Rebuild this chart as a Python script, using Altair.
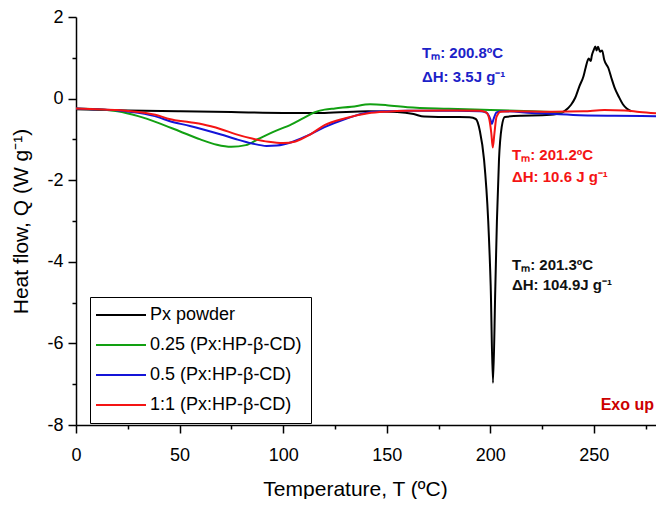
import altair as alt
import pandas as pd

# ---------------- data ----------------
series_names = ["Px powder", "0.25 (Px:HP-β-CD)", "0.5 (Px:HP-β-CD)", "1:1 (Px:HP-β-CD)"]
series_colors = ["#000000", "#12a012", "#1414d8", "#f41414"]

px_T = [0, 25, 50, 75, 100, 120, 141, 155, 163, 168, 175, 185, 190, 193, 195, 197, 199,
        200.2, 201.3, 202.4, 203.2, 204.2, 205.5, 207, 215, 225, 232, 236, 239, 241, 243,
        245, 246, 247.5, 248.5, 249, 250, 250.7, 251.3, 252, 253, 254, 255, 257, 258.5,
        260, 262, 264, 266, 268]
px_Q = [-0.26, -0.29, -0.31, -0.33, -0.35, -0.35, -0.31, -0.33, -0.38, -0.44, -0.45, -0.45,
        -0.46, -0.5, -0.8, -1.5, -3.0, -4.6, -6.97, -4.7, -3.0, -1.5, -0.7, -0.45, -0.42,
        -0.41, -0.38, -0.3, -0.15, 0.02, 0.3, 0.55, 0.75, 0.98, 0.92, 1.05, 1.2, 1.28, 1.18,
        1.27, 1.15, 1.18, 0.95, 0.75, 0.5, 0.27, 0.05, -0.14, -0.25, -0.31]

g_T = [0, 10, 20, 30, 40, 50, 60, 68, 75, 82, 88, 95, 104, 110, 115, 120, 125, 133, 142,
       150, 160, 180, 200, 220, 235]
g_Q = [-0.24, -0.26, -0.31, -0.43, -0.6, -0.8, -1.0, -1.13, -1.18, -1.14, -0.99, -0.82,
       -0.63, -0.47, -0.34, -0.27, -0.24, -0.2, -0.14, -0.16, -0.21, -0.25, -0.28, -0.31, -0.34]

b_T = [0, 10, 20, 30, 40, 45, 55, 61, 70, 77, 85, 92, 97, 104, 112, 120, 130, 141, 150,
       160, 184, 195, 198, 200, 200.8, 201.6, 203, 206, 220, 240, 260, 280]
b_Q = [-0.24, -0.26, -0.29, -0.35, -0.46, -0.55, -0.67, -0.75, -0.88, -0.99, -1.1, -1.16,
       -1.15, -1.07, -0.9, -0.7, -0.5, -0.34, -0.31, -0.3, -0.3, -0.31, -0.34, -0.5, -0.62,
       -0.5, -0.34, -0.31, -0.35, -0.4, -0.42, -0.43]

r_T = [0, 10, 20, 30, 40, 45, 55, 61, 70, 77, 85, 93, 100, 106, 113, 120, 130, 141, 150,
       160, 184, 195, 198, 199.5, 200.5, 201.2, 202, 203, 205, 210, 230, 245, 255, 265, 272, 280]
r_Q = [-0.24, -0.26, -0.28, -0.33, -0.42, -0.5, -0.58, -0.63, -0.75, -0.87, -0.98, -1.06,
       -1.09, -1.05, -0.88, -0.65, -0.48, -0.36, -0.32, -0.3, -0.29, -0.3, -0.34, -0.5,
       -0.85, -1.2, -0.85, -0.45, -0.32, -0.31, -0.32, -0.31, -0.28, -0.29, -0.33, -0.36]

x_ticks = [0, 25, 50, 75, 100, 125, 150, 175, 200, 225, 250, 275]
y_ticks = [-8, -7, -6, -5, -4, -3, -2, -1, 0, 1, 2]

ann_blue = ["Tₘ: 200.8ºC", "ΔH: 3.5J g⁻¹"]
ann_red = ["Tₘ: 201.2ºC", "ΔH: 10.6 J g⁻¹"]
ann_black = ["Tₘ: 201.3ºC", "ΔH: 104.9J g⁻¹"]
exo_label = "Exo up"

# ---------------- table ----------------
rows = []
for k, (name, T, Q) in enumerate(zip(series_names, [px_T, g_T, b_T, r_T], [px_Q, g_Q, b_Q, r_Q])):
    for t, q in zip(T, Q):
        rows.append({"series": name, "T": t, "Q": q, "k": k})
df = pd.DataFrame(rows)

FONT = "Liberation Sans"
W, H = 580, 408

lines = alt.Chart(df).mark_line(strokeWidth=2, interpolate="monotone").encode(
    x=alt.X("T:Q", scale=alt.Scale(domain=[0, 280], nice=False, zero=False),
            axis=alt.Axis(values=x_ticks, labelFlush=False,
                          labelExpr="datum.value % 50 === 0 ? '' + datum.value : ''",
                          tickSize={"condition": {"test": "datum.value % 50 === 0", "value": 8}, "value": 4},
                          title="Temperature, T (ºC)", titleX=279, titlePadding=14, labelPadding=13)),
    y=alt.Y("Q:Q", scale=alt.Scale(domain=[-8, 2], nice=False, zero=False),
            axis=alt.Axis(values=y_ticks, labelFlush=False,
                          labelExpr="datum.value % 2 === 0 ? '' + datum.value : ''",
                          tickSize={"condition": {"test": "datum.value % 2 === 0", "value": 8}, "value": 4},
                          title="Heat flow, Q (W g⁻¹)", titlePadding=15, labelPadding=5)),
    color=alt.Color("series:N", scale=alt.Scale(domain=series_names, range=series_colors),
                    legend=alt.Legend(title=None, orient="none", legendX=14, legendY=280,
                                      strokeColor="black", padding=9, symbolType="M-2.4,0H7.6",
                                      symbolSize=100, symbolStrokeWidth=2, labelFontSize=18,
                                      labelFont=FONT, labelColor="black", rowPadding=12,
                                      labelOffset=33, fillColor="white")),
    order=alt.Order("T:Q"),
    detail="k:N",
)

def text_mark(txt, color, x, y, size=15):
    return alt.Chart(pd.DataFrame({"txt": [txt]})).mark_text(
        align="left", baseline="middle", fontWeight="bold", fontSize=size, font=FONT,
        color=color).encode(x=alt.value(x), y=alt.value(y), text="txt:N")

layers = [lines,
          text_mark(ann_blue[0], "#1c22c8", 346, 36),
          text_mark(ann_blue[1], "#1c22c8", 346, 60),
          text_mark(ann_red[0], "#f41414", 436, 138),
          text_mark(ann_red[1], "#f41414", 436, 160),
          text_mark(ann_black[0], "#111111", 436, 248),
          text_mark(ann_black[1], "#111111", 436, 268)]

exo = alt.Chart(pd.DataFrame({"txt": [exo_label]})).mark_text(
    align="right", baseline="middle", fontWeight="bold", fontSize=16, font=FONT,
    color="#cc0000").encode(x=alt.value(578), y=alt.value(388), text="txt:N")
layers.append(exo)

chart = alt.layer(*layers).properties(
    width=W, height=H,
    autosize=alt.AutoSizeParams(type="none"),
    padding={"left": 68, "top": 9, "right": 0, "bottom": 74},
).configure_view(stroke=None).configure_axis(
    domainColor="black", domainWidth=1.5, tickColor="black", tickWidth=1.5,
    labelFont=FONT, labelFontSize=18, labelColor="black",
    titleFont=FONT, titleFontSize=21, titleFontWeight="normal", titleColor="black",
    grid=False,
)

chart.save("out.html", embed_options={"renderer": "svg", "actions": False})
